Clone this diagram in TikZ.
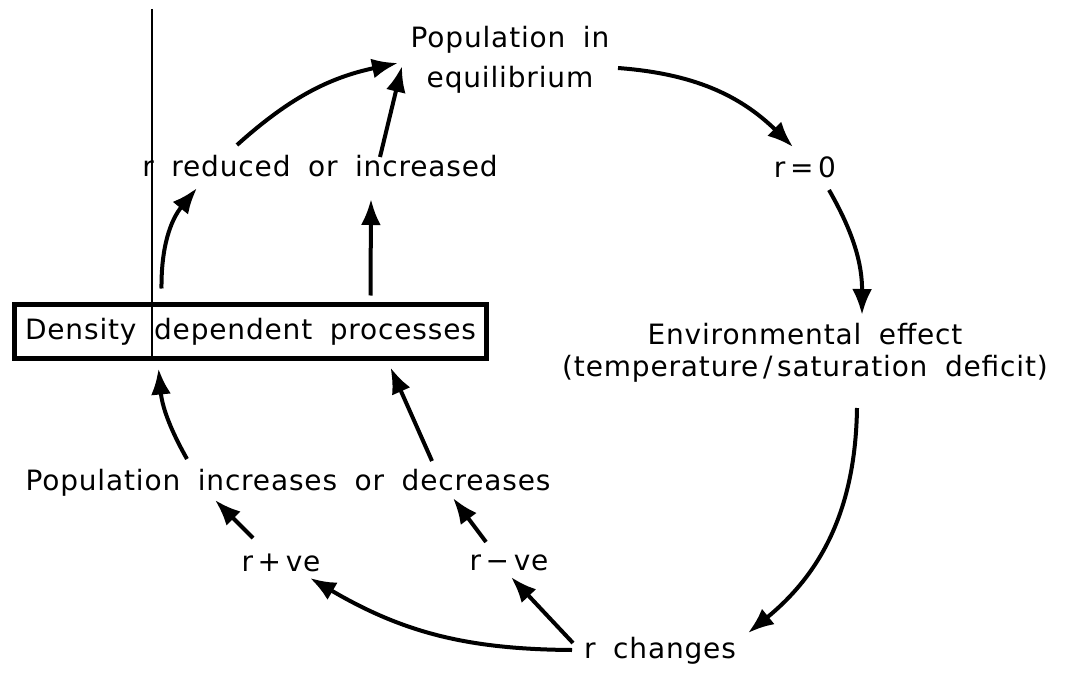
\documentclass[tikz,border=0pt]{standalone}
\usepackage{fontspec}
\setmainfont{DejaVu Sans}[LetterSpace=3, WordSpace=1.8]
\usetikzlibrary{arrows.meta}

\tikzset{
	lbl/.style={font=\fontsize{28}{40}\selectfont, align=center, inner sep=1pt},
	arr/.style={-{Latex[length=26pt,width=20pt]}, line width=4pt},
	dbox/.style={lbl, draw, line width=5pt, minimum width=472pt, minimum height=54pt},
}

\begin{document}
\begin{tikzpicture}[x=1pt,y=-1pt]
	\useasboundingbox (0,0) rectangle (1076,687);
	\draw[line width=1.6pt] (152,9) -- (152,361);

	\node (eq) at (510,60) [lbl] {Population in\\equilibrium};
	\node (r0) at (805,167) [lbl] {r\,=\,0};
	\node (env) at (805,353) [lbl, font=\fontsize{28}{32}\selectfont] {Environmental effect\\(temperature\,/\,saturation deficit)};
	\node (rch) at (660,651) [lbl] {r changes};
	\node (rplus) at (281,563) [lbl] {r\,+\,ve};
	\node (rminus) at (509,563) [lbl] {r\,−\,ve};
	\node (popinc) at (288,483) [lbl] {Population increases or decreases};
	\node (dens) at (250.5,331.5) [dbox] {Density dependent processes};
	\node (rred) at (320,166) [lbl] {r reduced or increased};

	\draw[arr] ([shift={(-83,-21)}]rred.center) to[bend left=15] ([shift={(-112,3)}]eq.center);
	\draw[arr] ([shift={(60,-9)}]rred.center) -- ([shift={(-108,6)}]eq.center);
	\draw[arr] ([shift={(-89,-43)}]dens.center) to[bend left=20] ([shift={(-123,22)}]rred.center);
	\draw[arr] ([shift={(120,-36)}]dens.center) -- ([shift={(51,33)}]rred.center);
	\draw[arr] ([shift={(108,8)}]eq.center) to[bend left=20] ([shift={(-12,-20)}]r0.center);
	\draw[arr] ([shift={(24,23)}]r0.center) to[bend left=15] ([shift={(57,-38)}]env.center);
	\draw[arr] ([shift={(52,55)}]env.center) to[bend left=25] ([shift={(88,-18)}]rch.center);
	\draw[arr] ([shift={(-88,-1)}]rch.center) to[bend left=15] ([shift={(29,15)}]rplus.center);
	\draw[arr] ([shift={(-87,-8)}]rch.center) -- ([shift={(2,14)}]rminus.center);
	\draw[arr] ([shift={(-28,-25)}]rplus.center) -- ([shift={(-73,17)}]popinc.center);
	\draw[arr] ([shift={(-23,-21)}]rminus.center) -- ([shift={(165,15)}]popinc.center);
	\draw[arr] ([shift={(-101,-24)}]popinc.center) to[bend left=12] ([shift={(-92,37)}]dens.center);
	\draw[arr] ([shift={(144,-22)}]popinc.center) -- ([shift={(140,36)}]dens.center);
\end{tikzpicture}
\end{document}
